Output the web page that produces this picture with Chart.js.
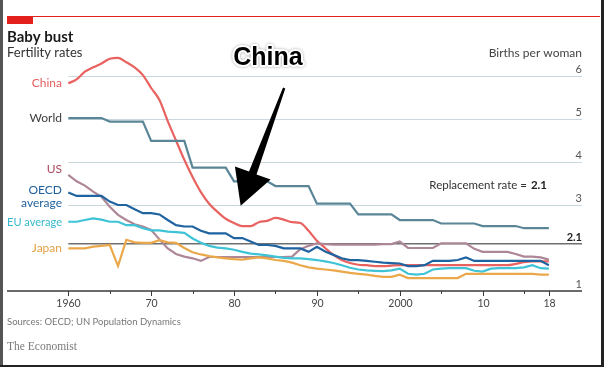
<!DOCTYPE html>
<html>
<head>
<meta charset="utf-8">
<script src="https://cdn.jsdelivr.net/npm/chart.js@4.4.0/dist/chart.umd.min.js"></script>
<style>
  html, body { margin: 0; padding: 0; background: #fff; }
  #wrap { position: relative; width: 604px; height: 367px; overflow: hidden; }
  canvas { position: absolute; left: 0; top: 0; }
  .edge { position: absolute; }
</style>
</head>
<body>
<div id="wrap">
  <canvas id="fertChart" width="604" height="367"></canvas>
  <div class="edge" style="left:0;top:0;width:3px;height:367px;background:#555"></div>
  <div class="edge" style="right:0;top:0;width:3px;height:367px;background:#222"></div>
  <div class="edge" style="left:0;bottom:0;width:604px;height:2px;background:#222"></div>
</div>
<script>
// Years on the x axis
const years = [
  1960, 1961, 1962, 1963, 1964, 1965, 1966, 1967, 1968, 1969,
  1970, 1971, 1972, 1973, 1974, 1975, 1976, 1977, 1978, 1979,
  1980, 1981, 1982, 1983, 1984, 1985, 1986, 1987, 1988, 1989,
  1990, 1991, 1992, 1993, 1994, 1995, 1996, 1997, 1998, 1999,
  2000, 2001, 2002, 2003, 2004, 2005, 2006, 2007, 2008, 2009,
  2010, 2011, 2012, 2013, 2014, 2015, 2016, 2017, 2018
];

// Births per woman
const china = [
  5.83, 5.92, 6.10, 6.20, 6.29, 6.40, 6.42, 6.32, 6.20, 6.02,
  5.72, 5.44, 4.95, 4.50, 4.05, 3.65, 3.30, 3.03, 2.84, 2.68,
  2.58, 2.51, 2.51, 2.60, 2.63, 2.70, 2.66, 2.60, 2.58, 2.40,
  2.17, 2.00, 1.84, 1.72, 1.65, 1.61, 1.60, 1.58, 1.58, 1.59,
  1.60, 1.60, 1.60, 1.60, 1.60, 1.60, 1.60, 1.60, 1.60, 1.60,
  1.60, 1.60, 1.60, 1.60, 1.63, 1.67, 1.69, 1.69, 1.69
];
const world = [
  5.02, 5.02, 5.02, 5.02, 5.02, 4.94, 4.94, 4.94, 4.94, 4.94,
  4.49, 4.49, 4.49, 4.49, 4.49, 3.87, 3.87, 3.87, 3.87, 3.87,
  3.55, 3.55, 3.55, 3.55, 3.55, 3.44, 3.44, 3.44, 3.44, 3.44,
  3.03, 3.03, 3.03, 3.03, 3.03, 2.78, 2.78, 2.78, 2.78, 2.78,
  2.65, 2.65, 2.65, 2.65, 2.65, 2.57, 2.57, 2.57, 2.57, 2.57,
  2.51, 2.51, 2.51, 2.51, 2.51, 2.46, 2.46, 2.46, 2.46
];
const us = [
  3.70, 3.55, 3.45, 3.31, 3.19, 2.96, 2.77, 2.65, 2.55, 2.50,
  2.42, 2.20, 1.99, 1.86, 1.80, 1.76, 1.70, 1.79, 1.79, 1.79,
  1.79, 1.79, 1.79, 1.79, 1.79, 1.79, 1.79, 1.80, 1.97, 2.05,
  2.11, 2.09, 2.08, 2.08, 2.08, 2.08, 2.08, 2.08, 2.09, 2.09,
  2.15, 2.00, 2.00, 2.00, 2.00, 2.11, 2.11, 2.11, 2.11, 1.98,
  1.91, 1.91, 1.91, 1.91, 1.86, 1.80, 1.80, 1.78, 1.73
];
const oecd = [
  3.29, 3.21, 3.21, 3.21, 3.21, 3.08, 3.00, 3.00, 2.90, 2.81,
  2.81, 2.78, 2.65, 2.53, 2.50, 2.50, 2.40, 2.34, 2.34, 2.34,
  2.23, 2.23, 2.15, 2.07, 2.07, 2.05, 1.99, 1.99, 1.99, 1.91,
  2.03, 1.92, 1.84, 1.76, 1.72, 1.72, 1.70, 1.68, 1.66, 1.65,
  1.64, 1.58, 1.58, 1.60, 1.70, 1.70, 1.70, 1.72, 1.78, 1.70,
  1.70, 1.70, 1.70, 1.70, 1.70, 1.70, 1.70, 1.70, 1.60
];
const eu = [
  2.61, 2.61, 2.65, 2.69, 2.66, 2.61, 2.61, 2.53, 2.53, 2.46,
  2.41, 2.41, 2.38, 2.37, 2.35, 2.22, 2.12, 2.05, 2.01, 1.99,
  1.96, 1.91, 1.87, 1.85, 1.83, 1.80, 1.77, 1.76, 1.76, 1.74,
  1.72, 1.69, 1.65, 1.60, 1.54, 1.50, 1.48, 1.47, 1.46, 1.48,
  1.52, 1.40, 1.38, 1.40, 1.50, 1.52, 1.53, 1.53, 1.53, 1.47,
  1.45, 1.52, 1.53, 1.53, 1.53, 1.55, 1.60, 1.53, 1.52
];
const japan = [
  1.99, 1.99, 1.99, 2.03, 2.05, 2.07, 1.58, 2.19, 2.13, 2.12,
  2.12, 2.18, 2.13, 2.12, 2.00, 1.90, 1.85, 1.81, 1.78, 1.76,
  1.74, 1.73, 1.76, 1.78, 1.76, 1.72, 1.70, 1.66, 1.60, 1.55,
  1.52, 1.50, 1.48, 1.45, 1.42, 1.40, 1.38, 1.35, 1.33, 1.33,
  1.38, 1.30, 1.30, 1.30, 1.30, 1.30, 1.30, 1.30, 1.40, 1.40,
  1.40, 1.40, 1.40, 1.40, 1.40, 1.40, 1.40, 1.38, 1.38
];
const replacementRate = 2.1;

// Axis ticks
const xTickYears  = [1960, 1965, 1970, 1975, 1980, 1985, 1990, 1995, 2000, 2005, 2010, 2015, 2018];
const xTickLabels = ["1960", "", "70", "", "80", "", "90", "", "2000", "", "10", "", "18"];
const yTickValues = [6, 5, 4, 3, 1];
const yTickLabels = ["6", "5", "4", "3", "1"];

const FONT = "Lato, 'Open Sans', sans-serif";

// name, colour of line, colour of label, label lines, label nudge (px)
const series = [
  { name: "Japan", data: japan, color: "#eaa84a", text: "#e5a041", lines: ["Japan"], dy: [0] },
  { name: "EU average", data: eu, color: "#3fc3d6", text: "#35b9cd", lines: ["EU average"], dy: [0] },
  { name: "OECD average", data: oecd, color: "#1f63a1", text: "#1f5f9c", lines: ["OECD", "average"], dy: [-2.5, 10.8] },
  { name: "US", data: us, color: "#ad8797", text: "#a8485c", lines: ["US"], dy: [-6] },
  { name: "World", data: world, color: "#5a8697", text: "#3d3d3d", lines: ["World"], dy: [0] },
  { name: "China", data: china, color: "#e8625f", text: "#e3605e", lines: ["China"], dy: [0] }
];

const decorPlugin = {
  id: "decor",
  beforeDatasetsDraw(chart) {
    const { ctx, chartArea, scales: { x, y } } = chart;
    const x0 = x.getPixelForValue(1960);
    ctx.save();
    // grid lines
    ctx.strokeStyle = "#c9d7e1";
    ctx.lineWidth = 1;
    yTickValues.forEach(v => {
      if (v === 1) return;
      const py = Math.round(y.getPixelForValue(v)) + 0.5;
      ctx.beginPath();
      ctx.moveTo(x0, py);
      ctx.lineTo(chartArea.right, py);
      ctx.stroke();
    });
    // replacement rate line
    const ry = y.getPixelForValue(replacementRate);
    ctx.strokeStyle = "#6f6f6f";
    ctx.lineWidth = 1.5;
    ctx.beginPath();
    ctx.moveTo(x0, ry);
    ctx.lineTo(chartArea.right, ry);
    ctx.stroke();
    ctx.restore();
  },
  afterDatasetsDraw(chart) {
    const { ctx, chartArea, scales: { x, y } } = chart;
    const right = chartArea.right;
    ctx.save();

    // x axis line and ticks
    const ay = y.getPixelForValue(1);
    ctx.strokeStyle = "#3a3a3a";
    ctx.lineWidth = 1.3;
    ctx.beginPath();
    ctx.moveTo(chartArea.left, ay);
    ctx.lineTo(right, ay);
    ctx.stroke();
    ctx.lineWidth = 1;
    ctx.font = "10.5px " + FONT;
    ctx.fillStyle = "#444";
    ctx.textAlign = "center";
    ctx.textBaseline = "middle";
    xTickYears.forEach((yr, i) => {
      const px = Math.round(x.getPixelForValue(yr)) + 0.5;
      const len = xTickLabels[i] ? 5 : 3;
      ctx.beginPath();
      ctx.moveTo(px, ay);
      ctx.lineTo(px, ay + len);
      ctx.stroke();
      if (xTickLabels[i]) ctx.fillText(xTickLabels[i], px, ay + 12.5);
    });

    // right-hand y labels, sitting above their lines
    ctx.textAlign = "right";
    ctx.textBaseline = "alphabetic";
    ctx.font = "11px " + FONT;
    ctx.fillStyle = "#555";
    yTickValues.forEach((v, i) => {
      ctx.fillText(yTickLabels[i], right, y.getPixelForValue(v) - 3);
    });
    ctx.font = "bold 11px " + FONT;
    ctx.fillStyle = "#222";
    ctx.fillText(String(replacementRate), right, y.getPixelForValue(replacementRate) - 3);
    ctx.font = "12px " + FONT;
    ctx.fillStyle = "#444";
    ctx.textBaseline = "middle";
    ctx.fillText("Births per woman", right, 53);

    // replacement rate note
    ctx.font = "bold 11.5px " + FONT;
    const bw = ctx.measureText(String(replacementRate)).width;
    ctx.fillStyle = "#222";
    ctx.fillText(String(replacementRate), 547, 185);
    ctx.font = "11.5px " + FONT;
    ctx.fillStyle = "#333";
    ctx.fillText("Replacement rate = ", 547 - bw - 1, 185);

    // series labels on the left
    ctx.textAlign = "right";
    ctx.textBaseline = "middle";
    ctx.font = "12px " + FONT;
    series.forEach(s => {
      const py = y.getPixelForValue(s.data[0]);
      ctx.fillStyle = s.text;
      s.lines.forEach((ln, k) => ctx.fillText(ln, 62, py + s.dy[k], 55));
    });

    // headline
    ctx.textAlign = "left";
    ctx.fillStyle = "#1a1a1a";
    ctx.font = "bold 15px " + FONT;
    ctx.fillText("Baby bust", 7, 37);
    ctx.font = "13px " + FONT;
    ctx.fillStyle = "#333";
    ctx.fillText("Fertility rates", 7, 53);
    ctx.font = "9.5px " + FONT;
    ctx.fillStyle = "#777";
    ctx.fillText("Sources: OECD; UN Population Dynamics", 7, 322);
    ctx.font = "11.5px 'Liberation Serif', 'DejaVu Serif', serif";
    ctx.fillStyle = "#7a7a7a";
    ctx.fillText("The Economist", 7, 347);

    // red rule and tag
    ctx.fillStyle = "#e3201b";
    ctx.fillRect(7, 16, 593, 1);
    ctx.fillRect(7, 16, 26, 8);

    // big "China" callout with arrow
    const tipX = x.getPixelForValue(1980.8), tipY = y.getPixelForValue(2.98);
    const tailX = x.getPixelForValue(1986.05), tailY = y.getPixelForValue(5.72);
    const dx = tipX - tailX, dy = tipY - tailY, L = Math.hypot(dx, dy);
    const ux = dx / L, uy = dy / L, nx = -uy, ny = ux;
    const headLen = 35, headHalf = 19;
    const bx = tipX - ux * headLen, by = tipY - uy * headLen;
    ctx.fillStyle = "#000";
    ctx.beginPath();
    ctx.moveTo(tailX + nx * 1.2, tailY + ny * 1.2);
    ctx.lineTo(bx + nx * 4, by + ny * 4);
    ctx.lineTo(bx + nx * headHalf, by + ny * headHalf);
    ctx.lineTo(tipX, tipY);
    ctx.lineTo(bx - nx * headHalf, by - ny * headHalf);
    ctx.lineTo(bx - nx * 4, by - ny * 4);
    ctx.lineTo(tailX - nx * 1.2, tailY - ny * 1.2);
    ctx.closePath();
    ctx.fill();

    ctx.font = "bold 25px 'Liberation Sans', Arial, sans-serif";
    ctx.textAlign = "center";
    ctx.textBaseline = "middle";
    ctx.lineJoin = "round";
    ctx.shadowColor = "rgba(0,0,0,0.35)";
    ctx.shadowBlur = 3;
    ctx.strokeStyle = "#fff";
    ctx.lineWidth = 4;
    ctx.strokeText("China", 268, 58);
    ctx.shadowBlur = 0;
    ctx.shadowColor = "transparent";
    ctx.fillStyle = "#000";
    ctx.fillText("China", 268, 58);

    ctx.restore();
  }
};

const ctx = document.getElementById("fertChart").getContext("2d");
new Chart(ctx, {
  type: "line",
  data: {
    datasets: series.map(s => ({
      label: s.name,
      data: s.data.map((v, i) => ({ x: years[i], y: v })),
      borderColor: s.color,
      borderWidth: 2.2,
      pointRadius: 0,
      fill: false,
      clip: false,
      cubicInterpolationMode: s.name === "China" ? "monotone" : "default",
      tension: 0
    }))
  },
  options: {
    responsive: false,
    animation: false,
    events: [],
    layout: { padding: { left: 7, right: 22, top: 56.6, bottom: 76 } },
    scales: {
      x: { type: "linear", min: 1952.6, max: 2022, display: false },
      y: { type: "linear", min: 1, max: 6.45, display: false }
    },
    plugins: { legend: { display: false }, tooltip: { enabled: false } }
  },
  plugins: [decorPlugin]
});
</script>
</body>
</html>
